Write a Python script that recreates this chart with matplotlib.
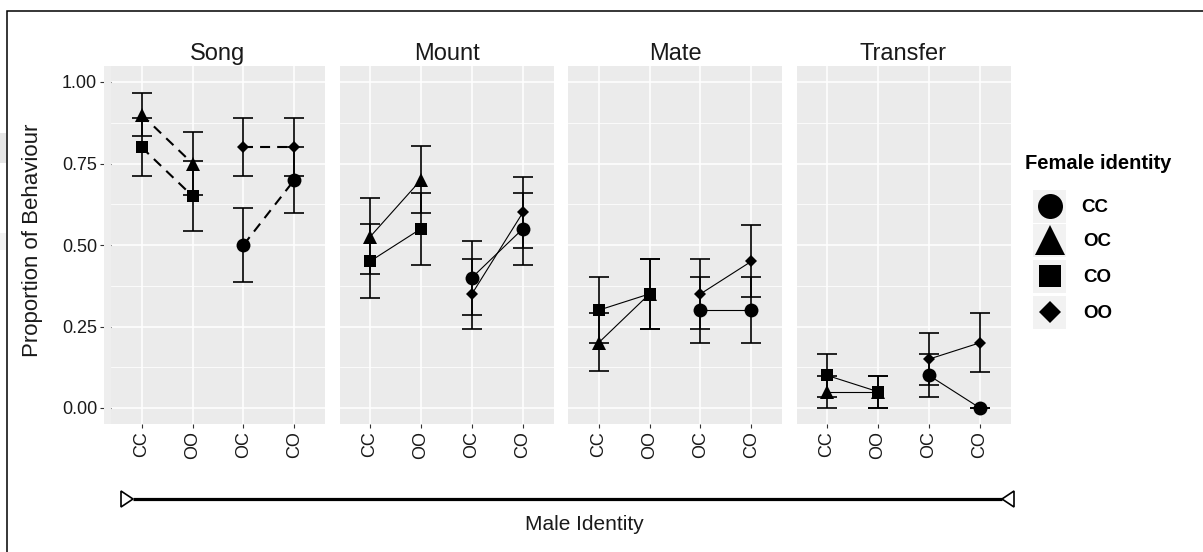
import matplotlib
matplotlib.use("Agg")
import matplotlib.pyplot as plt
from matplotlib.patches import Rectangle, Polygon

plt.rcParams['font.family'] = ['Liberation Sans', 'DejaVu Sans']

# ---------------- data ----------------
behaviours = ["Song", "Mount", "Mate", "Transfer"]
male_ids = ["CC", "OO", "OC", "CO"]
female_ids = ["CC", "OC", "CO", "OO"]          # legend order
female_markers = ["o", "^", "s", "D"]

# series order inside every panel: female OC, CO (at males CC, OO); female CC, OO (at males OC, CO)
series_female = ["OC", "CO", "CC", "OO"]
series_males = [["CC", "OO"], ["CC", "OO"], ["OC", "CO"], ["OC", "CO"]]

song_mean = [[0.90, 0.75], [0.80, 0.65], [0.50, 0.70], [0.80, 0.80]]
song_lo = [[0.833, 0.653], [0.711, 0.543], [0.388, 0.598], [0.711, 0.711]]
song_hi = [[0.967, 0.847], [0.889, 0.757], [0.612, 0.802], [0.889, 0.889]]

mount_mean = [[0.525, 0.70], [0.45, 0.55], [0.40, 0.55], [0.35, 0.60]]
mount_lo = [[0.41, 0.597], [0.337, 0.439], [0.285, 0.439], [0.243, 0.49]]
mount_hi = [[0.645, 0.803], [0.564, 0.661], [0.512, 0.661], [0.457, 0.71]]

mate_mean = [[0.20, 0.35], [0.30, 0.35], [0.30, 0.30], [0.35, 0.45]]
mate_lo = [[0.113, 0.243], [0.198, 0.243], [0.198, 0.198], [0.243, 0.339]]
mate_hi = [[0.29, 0.457], [0.402, 0.457], [0.402, 0.402], [0.457, 0.561]]

transfer_mean = [[0.05, 0.05], [0.10, 0.05], [0.10, 0.00], [0.15, 0.20]]
transfer_lo = [[0.0, 0.0], [0.033, 0.0], [0.033, 0.0], [0.07, 0.11]]
transfer_hi = [[0.099, 0.099], [0.167, 0.099], [0.167, 0.0], [0.23, 0.29]]

y_ticks = [0.00, 0.25, 0.50, 0.75, 1.00]
y_tick_labels = ["0.00", "0.25", "0.50", "0.75", "1.00"]

panel_data = [(song_mean, song_lo, song_hi),
              (mount_mean, mount_lo, mount_hi),
              (mate_mean, mate_lo, mate_hi),
              (transfer_mean, transfer_lo, transfer_hi)]
dashed_panels = ["Song"]

# ---------------- layout ----------------
W, H = 1203, 552
DPI = 100
fig = plt.figure(figsize=(W / DPI, H / DPI), dpi=DPI)
fig.patch.set_facecolor("white")

def box(x0, y0, x1, y1):
    return [x0 / W, 1 - y1 / H, (x1 - x0) / W, (y1 - y0) / H]

PANEL_BG = "#EBEBEB"
panel_left = [111, 339.5, 568, 796.5]
panel_w = 214
panel_top, panel_bot = 65.7, 424.3

ms_size = {"o": 10.0, "^": 10.5, "s": 9.0, "D": 6.5}
marker_of = dict(zip(female_ids, female_markers))

for pi, beh in enumerate(behaviours):
    x0 = panel_left[pi]
    ax = fig.add_axes(box(x0, panel_top, x0 + panel_w, panel_bot))
    ax.set_facecolor(PANEL_BG)
    for s in ax.spines.values():
        s.set_visible(False)
    ax.set_xlim(0.4, 4.6)
    ax.set_ylim(-0.05, 1.05)
    ax.set_xticks(range(1, 5))
    ax.set_xticklabels(male_ids, rotation=90, fontsize=13, color="#1a1a1a")
    ax.set_yticks(y_ticks)
    ax.set_yticks([0.125, 0.375, 0.625, 0.875], minor=True)
    ax.tick_params(axis="x", which="major", length=3, width=0.8, color="#333333", pad=2)
    ax.tick_params(axis="y", which="minor", length=0)
    if pi == 0:
        ax.set_yticklabels(y_tick_labels, fontsize=13, color="#1a1a1a")
        ax.tick_params(axis="y", which="major", length=8, width=0.8, color="#333333", pad=2)
    else:
        ax.set_yticklabels([])
        ax.tick_params(axis="y", which="major", length=0)
    ax.grid(True, which="major", color="white", linewidth=1.1)
    ax.grid(True, which="minor", axis="y", color="white", linewidth=0.55)
    ax.set_axisbelow(True)

    means, los, his = panel_data[pi]
    ls = (0, (4.8, 3.4)) if beh in dashed_panels else "-"
    lw = 1.5 if beh in dashed_panels else 0.8
    for si, fem in enumerate(series_female):
        xs = [male_ids.index(m) + 1 for m in series_males[si]]
        m = means[si]
        lo = los[si]
        hi = his[si]
        yerr = [[m[k] - lo[k] for k in range(2)], [hi[k] - m[k] for k in range(2)]]
        ax.errorbar(xs, m, yerr=yerr, fmt="none", ecolor="black", elinewidth=1.2,
                    capsize=7.5, capthick=1.2, zorder=3)
        ax.plot(xs, m, color="black", linestyle=ls, linewidth=lw, zorder=4)
        mk = marker_of[fem]
        ax.plot(xs, m, linestyle="none", marker=mk, markersize=ms_size[mk],
                color="black", markeredgewidth=0, zorder=5)

    fig.text((x0 + panel_w / 2) / W, 1 - 60 / H, beh, ha="center", va="baseline",
             fontsize=17, color="#1a1a1a")

# overlay for annotations
ov = fig.add_axes([0, 0, 1, 1], zorder=10)
ov.set_xlim(0, W)
ov.set_ylim(H, 0)
ov.axis("off")
ov.patch.set_alpha(0)

# outer border (left and top)
ov.plot([7, 7, W + 5], [H + 5, 11, 11], color="black", linewidth=1.1, solid_joinstyle="miter")
# faint artifacts at left edge
ov.add_patch(Rectangle((0, 133), 6, 30, facecolor="#E6E6E6", edgecolor="none"))
ov.add_patch(Rectangle((0, 233), 6, 17, facecolor="#F2F2F2", edgecolor="none"))
# lighter strip left of first panel
ov.add_patch(Rectangle((103.5, panel_top), 7.5, panel_bot - panel_top,
                       facecolor="#EEEEEE", edgecolor="none"))

# y axis title
fig.text(33 / W, 1 - 240 / H, "Proportion of Behaviour", rotation=90, ha="center",
         va="center", fontsize=16, color="#1a1a1a")

# male identity arrow
ov.plot([133, 1002], [499, 499], color="black", linewidth=2.3, solid_capstyle="butt")
ov.add_patch(Polygon([[121, 491], [121, 507], [133, 499]], closed=True,
                     facecolor="white", edgecolor="black", linewidth=1.2))
ov.add_patch(Polygon([[1014, 491], [1014, 507], [1002, 499]], closed=True,
                     facecolor="white", edgecolor="black", linewidth=1.2))
ov.text(584, 525, "Male Identity", ha="center", va="center", fontsize=15, color="#1a1a1a")

# legend
ov.text(1025, 169, "Female identity", ha="left", va="baseline", fontsize=14.5,
        fontweight="bold", color="black")
leg_ms = {"o": 18, "^": 22, "s": 16.5, "D": 11.5}
key_y = [206, 240, 276, 312]
lab_x = [1081, 1083, 1083, 1083]
for i, (fem, mk) in enumerate(zip(female_ids, female_markers)):
    yc = key_y[i]
    ov.add_patch(Rectangle((1033, yc - 16.5), 33, 33, facecolor="#F2F2F2", edgecolor="none"))
    ov.plot([1049.5], [yc], marker=mk, markersize=leg_ms[mk], color="black",
            markeredgewidth=0, linestyle="none")
    ov.text(lab_x[i], yc + 2, fem, ha="left", va="center", fontsize=13.5,
            fontweight="bold", color="black")

fig.savefig("out.png", dpi=DPI)
